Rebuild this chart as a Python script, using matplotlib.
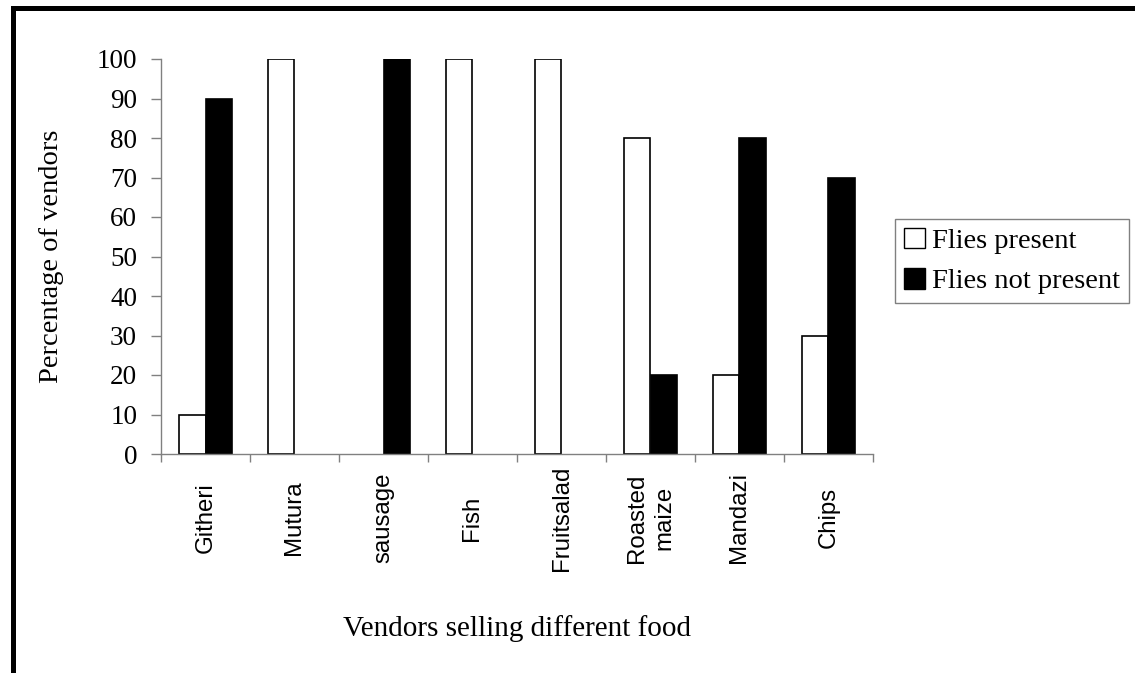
import matplotlib
matplotlib.use("Agg")
import matplotlib.pyplot as plt
from matplotlib.patches import Rectangle, Patch
import numpy as np

categories = ["Githeri", "Mutura", "sausage", "Fish", "Fruitsalad", "Roasted\nmaize", "Mandazi", "Chips"]
flies_present = [10, 100, 0, 100, 100, 80, 20, 30]
flies_not_present = [90, 0, 100, 0, 0, 20, 80, 70]
y_ticks = [0, 10, 20, 30, 40, 50, 60, 70, 80, 90, 100]

W, H = 1135, 673
fig = plt.figure(figsize=(W / 100, H / 100), dpi=100)
fig.patch.set_facecolor("white")

ax = fig.add_axes([161 / W, 1 - 454 / H, (873 - 161) / W, (454 - 59) / H])

x = np.arange(len(categories))
bw = 0.3
lw1 = [1.2 if v > 0 else 0 for v in flies_present]
lw2 = [1.2 if v > 0 else 0 for v in flies_not_present]
ax.bar(x - bw / 2, flies_present, width=bw, color="white", edgecolor="black", linewidth=lw1, zorder=1)
ax.bar(x + bw / 2, flies_not_present, width=bw, color="black", edgecolor="black", linewidth=lw2, zorder=1)

ax.set_xlim(-0.5, len(categories) - 0.5)
ax.set_ylim(0, 100)

for s in ["top", "right"]:
    ax.spines[s].set_visible(False)
for s in ["left", "bottom"]:
    ax.spines[s].set_color("#808080")
    ax.spines[s].set_linewidth(1.0)

ax.set_yticks(y_ticks)
ax.set_yticklabels([str(v) for v in y_ticks], fontfamily="Liberation Serif", fontsize=19.5)
ax.tick_params(axis="y", direction="out", length=7.2, width=1, color="#808080", pad=10)

ax.set_xticks(x)
ax.set_xticklabels(categories, rotation=90, fontfamily="Liberation Sans", fontsize=17.3,
                   va="center", ha="center", linespacing=1.3)
ax.tick_params(axis="x", which="major", length=0, pad=46)
ax.set_xticks(np.arange(len(categories) + 1) - 0.5, minor=True)
ax.tick_params(axis="x", which="minor", direction="out", length=6, width=1, color="#808080")

ax.set_ylabel("Percentage of vendors", fontfamily="Liberation Serif", fontsize=20.5)
ax.yaxis.set_label_coords((64 - 161) / (873 - 161), 0.5)
ax.set_xlabel("Vendors selling different food", fontfamily="Liberation Serif", fontsize=21)
ax.xaxis.label.set_va("center")
ax.xaxis.set_label_coords(0.5, -(629 - 454) / (454 - 59))

handles = [Patch(facecolor="white", edgecolor="black", linewidth=1.0),
           Patch(facecolor="black", edgecolor="black", linewidth=1.0)]
leg = fig.legend(handles, ["Flies present", "Flies not present"],
                 loc="center left", bbox_to_anchor=(895 / W, 1 - 261 / H),
                 prop={"family": "Liberation Serif", "size": 20.5},
                 frameon=True, fancybox=False, shadow=False,
                 handlelength=0.75, handleheight=0.75, handletextpad=0.25,
                 borderpad=0.3, labelspacing=0.5, borderaxespad=0)
leg.get_frame().set_edgecolor("#606060")
leg.get_frame().set_linewidth(1.0)

# outer frame (thick black border)
fig.add_artist(Rectangle((12.5 / W, -0.1), 1.2, 1 - 8.5 / H + 0.1,
                         transform=fig.transFigure, fill=False,
                         edgecolor="black", linewidth=3.6, clip_on=False))

fig.savefig("out.png", dpi=100, facecolor="white")
